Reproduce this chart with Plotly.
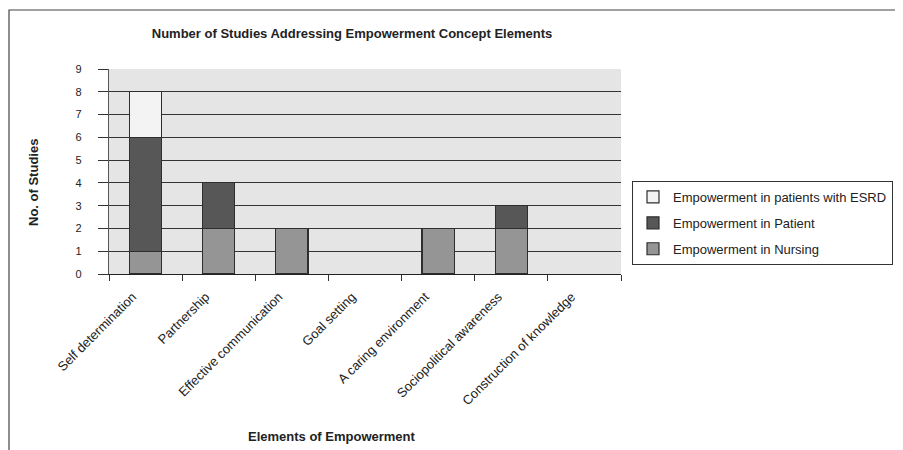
import plotly.graph_objects as go

categories = ["Self determination", "Partnership", "Effective communication",
              "Goal setting", "A caring environment", "Sociopolitical awareness",
              "Construction of knowledge"]
nursing = [1, 2, 2, 0, 2, 2, 0]
patient = [5, 2, 0, 0, 0, 1, 0]
esrd = [2, 0, 0, 0, 0, 0, 0]
y_ticks = [0, 1, 2, 3, 4, 5, 6, 7, 8, 9]

OFF = 8  # page body margin
W, H = 903 - OFF, 450 - OFF
L, T = 109 - OFF, 69 - OFF
PW, PH = 512, 205
R, B = W - L - PW, H - T - PH


def px(x):
    return (x - OFF - L) / PW


def py(y):
    return (T + PH - (y - OFF)) / PH


def nz(vals):
    return [v if v else None for v in vals]


FONT = "Liberation Sans, Arial, sans-serif"
FS = 13
edge = dict(color="#2e2e2e", width=1.2)

fig = go.Figure()
fig.add_trace(go.Bar(x=categories, y=nz(nursing), name="Empowerment in Nursing",
                     marker=dict(color="#959595", line=edge), width=0.44,
                     legendrank=3, legendgroup="c"))
fig.add_trace(go.Bar(x=categories, y=nz(patient), name="Empowerment in Patient",
                     marker=dict(color="#575757", line=edge), width=0.44,
                     legendrank=2, legendgroup="b"))
fig.add_trace(go.Bar(x=categories, y=nz(esrd), name="Empowerment in patients with ESRD",
                     marker=dict(color="#f3f3f3", line=edge), width=0.44,
                     legendrank=1, legendgroup="a"))

fig.update_layout(
    width=W, height=H,
    margin=dict(l=L, r=R, t=T, b=B, autoexpand=False),
    barmode="stack",
    paper_bgcolor="white",
    plot_bgcolor="#e5e5e5",
    font=dict(family=FONT, size=FS, color="#222222"),
    title=dict(text="<b>Number of Studies Addressing Empowerment Concept Elements</b>",
               font=dict(size=FS, color="#222222"),
               x=px(352), xref="paper", xanchor="center",
               y=1 - (33 - OFF) / H, yref="container", yanchor="middle"),
    xaxis=dict(type="category", showgrid=False, showline=True,
               linecolor="#222222", linewidth=1.2,
               ticks="outside", tickson="boundaries", ticklen=6,
               tickcolor="#333333", tickwidth=1.2,
               ticklabelstandoff=9, ticklabelshift=-13,
               tickangle=-45, tickfont=dict(size=13, color="#222222")),
    yaxis=dict(range=[0, 9], tickvals=y_ticks, showgrid=True,
               gridcolor="#333333", gridwidth=1,
               showline=True, linecolor="#555555", linewidth=1.2,
               ticks="outside", ticklen=10, tickcolor="#333333", tickwidth=1.2,
               ticklabelstandoff=14, zeroline=False,
               tickfont=dict(size=11, color="#222222")),
    legend=dict(x=px(632), y=py(181), xanchor="left", yanchor="top",
                bordercolor="#333333", borderwidth=1, bgcolor="white",
                traceorder="grouped", tracegroupgap=6,
                font=dict(size=FS, color="#222222")),
    shapes=[dict(type="rect", xref="paper", yref="paper",
                 x0=px(9), x1=px(930), y0=py(480), y1=py(10),
                 line=dict(color="#444444", width=1.2), fillcolor="rgba(0,0,0,0)",
                 layer="below")],
    annotations=[
        dict(text="<b>No. of Studies</b>", xref="paper", yref="paper",
             x=px(33), y=py(183), textangle=-90, showarrow=False,
             font=dict(size=FS, color="#222222"), xanchor="center", yanchor="middle"),
        dict(text="<b>Elements of Empowerment</b>", xref="paper", yref="paper",
             x=px(332), y=py(436), showarrow=False,
             font=dict(size=FS, color="#222222"), xanchor="center", yanchor="middle"),
    ],
)

fig.write_html("out.html")
